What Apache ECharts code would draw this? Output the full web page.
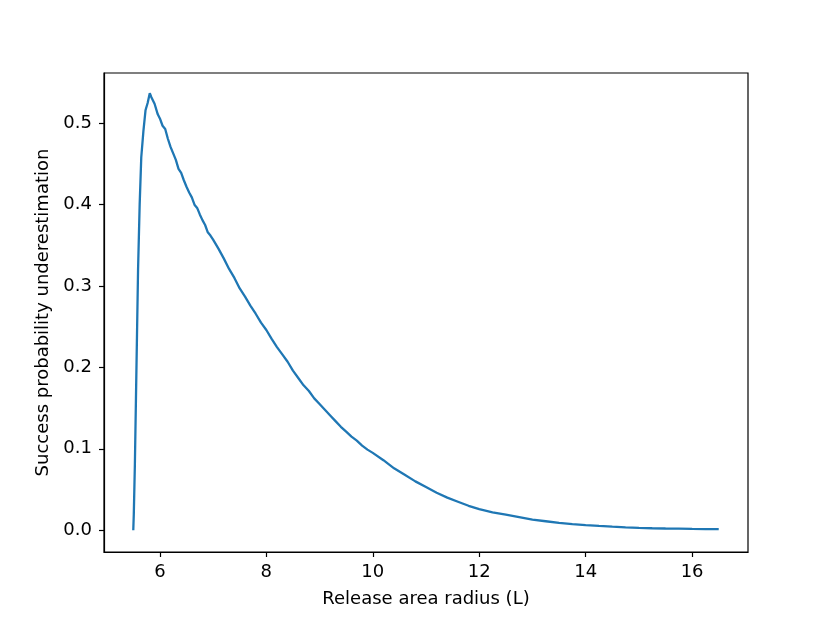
<!DOCTYPE html>
<html>
<head>
<meta charset="utf-8">
<script src="https://cdn.jsdelivr.net/npm/echarts@6/dist/echarts.min.js"></script>
<style>
html,body{margin:0;padding:0;background:#fff;}
#chart{width:830px;height:622px;}
</style>
</head>
<body>
<div id="chart"></div>
<script>
const radius = [5.5,5.51,5.53,5.55,5.57,5.59,5.62,5.65,5.69,5.73,5.77,5.81,5.84,5.87,5.9,5.93,5.96,6.0,6.05,6.1,6.15,6.2,6.25,6.3,6.35,6.4,6.45,6.5,6.55,6.6,6.65,6.7,6.75,6.8,6.85,6.9,6.95,7.0,7.1,7.2,7.3,7.4,7.5,7.6,7.7,7.8,7.9,8.0,8.1,8.2,8.3,8.4,8.5,8.6,8.7,8.8,8.9,9.0,9.1,9.2,9.3,9.4,9.5,9.6,9.7,9.8,9.9,10.0,10.2,10.4,10.6,10.8,11.0,11.2,11.4,11.6,11.8,12.0,12.25,12.5,12.75,13.0,13.25,13.5,13.75,14.0,14.25,14.5,14.75,15.0,15.25,15.5,15.75,16.0,16.25,16.5];
const underestimation = [0.0,0.02,0.08,0.16,0.24,0.32,0.40,0.458,0.49,0.516,0.525,0.537,0.532,0.530,0.524,0.522,0.511,0.506,0.497,0.493,0.481,0.471,0.463,0.455,0.444,0.439,0.430,0.422,0.415,0.409,0.400,0.396,0.388,0.381,0.375,0.366,0.362,0.357,0.346,0.334,0.321,0.310,0.297,0.287,0.276,0.266,0.255,0.246,0.235,0.225,0.216,0.207,0.196,0.187,0.178,0.171,0.162,0.155,0.148,0.141,0.134,0.127,0.121,0.115,0.110,0.104,0.099,0.095,0.086,0.076,0.068,0.060,0.053,0.046,0.040,0.035,0.030,0.026,0.022,0.019,0.016,0.013,0.011,0.009,0.0075,0.0063,0.0052,0.0043,0.0035,0.0028,0.0024,0.0021,0.0019,0.0016,0.0014,0.0012];
const xTicks = [6,8,10,12,14,16];
const yTicks = [0.0,0.1,0.2,0.3,0.4,0.5];
const xLabel = 'Release area radius (L)';
const yLabel = 'Success probability underestimation';

const chart = echarts.init(document.getElementById('chart'), null, {renderer:'canvas'});
const font = "'DejaVu Sans', sans-serif";
chart.setOption({
  animation:false,
  backgroundColor:'#fff',
  grid:{left:104,right:82,top:73,bottom:70,show:true,borderColor:'#000',borderWidth:1.2,backgroundColor:'transparent'},
  xAxis:{
    type:'value',min:4.95,max:17.05,
    name:xLabel,nameLocation:'middle',nameGap:38,
    nameTextStyle:{fontFamily:font,fontSize:18,color:'#000'},
    axisLine:{show:true,onZero:false,lineStyle:{color:'#000',width:1.2}},
    axisTick:{show:true,inside:false,length:5,lineStyle:{color:'#000',width:1.2},customValues:xTicks},
    axisLabel:{fontFamily:font,fontSize:18,color:'#000',margin:11,customValues:xTicks,formatter:v=>String(v)},
    splitLine:{show:false}
  },
  yAxis:{
    type:'value',min:-0.0268,max:0.5618,
    name:yLabel,nameLocation:'middle',nameGap:43,nameRotate:90,
    nameTextStyle:{fontFamily:font,fontSize:18,color:'#000'},
    axisLine:{show:true,onZero:false,lineStyle:{color:'#000',width:1.2}},
    axisTick:{show:true,inside:false,length:5,lineStyle:{color:'#000',width:1.2},customValues:yTicks},
    axisLabel:{fontFamily:font,fontSize:18,color:'#000',margin:12,customValues:yTicks,formatter:v=>v.toFixed(1)},
    splitLine:{show:false}
  },
  series:[{
    type:'line',
    data:radius.map((x,i)=>[x,underestimation[i]]),
    showSymbol:false,symbol:'none',
    lineStyle:{color:'#1f77b4',width:2.3},
    clip:true
  }]
});
</script>
</body>
</html>
